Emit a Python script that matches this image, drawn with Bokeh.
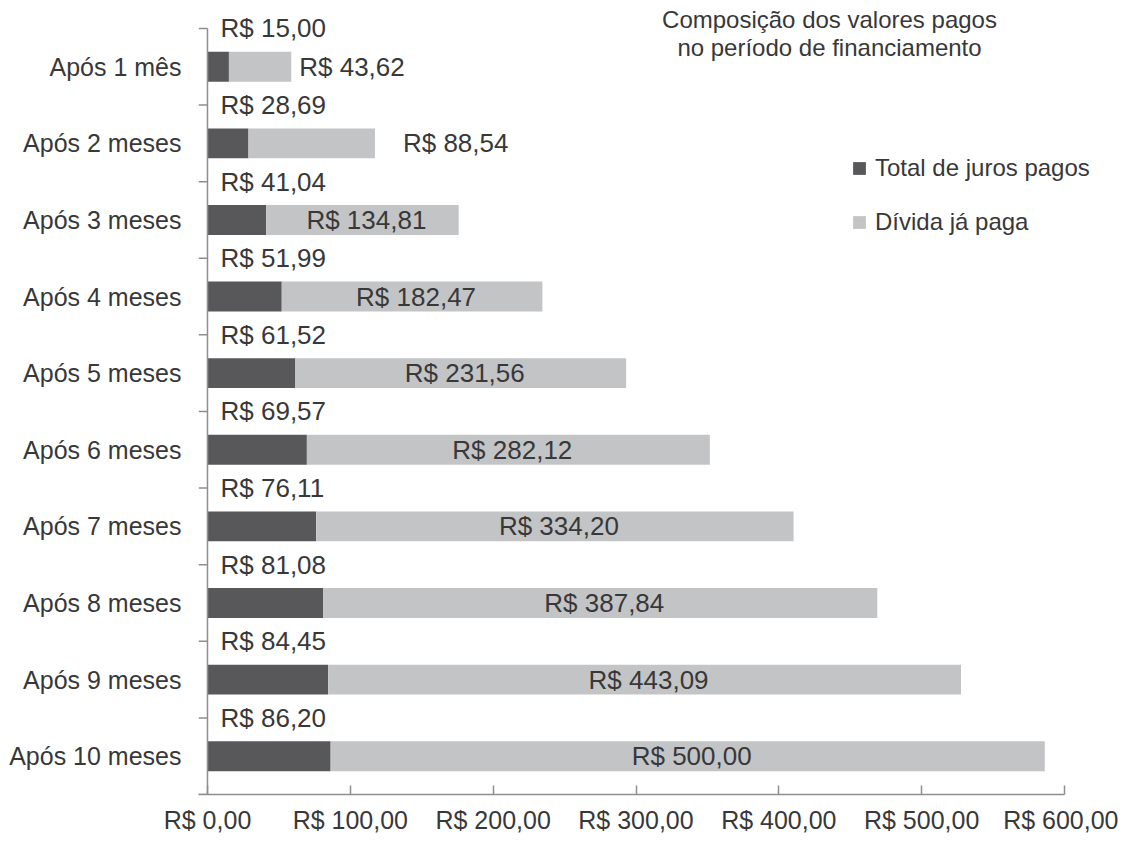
from bokeh.plotting import figure
from bokeh.models import (Range1d, FixedTicker, Legend, LegendItem, Label, LabelSet,
                          ColumnDataSource)
from bokeh.core.properties import value
from bokeh.embed import file_html
from bokeh.resources import INLINE

categories = ["Após 1 mês", "Após 2 meses", "Após 3 meses", "Após 4 meses", "Após 5 meses",
              "Após 6 meses", "Após 7 meses", "Após 8 meses", "Após 9 meses", "Após 10 meses"]
juros = [15.00, 28.69, 41.04, 51.99, 61.52, 69.57, 76.11, 81.08, 84.45, 86.20]
divida = [43.62, 88.54, 134.81, 182.47, 231.56, 282.12, 334.20, 387.84, 443.09, 500.00]
x_ticks = [0, 100, 200, 300, 400, 500, 600]
x_tick_labels = ["R$ 0,00", "R$ 100,00", "R$ 200,00", "R$ 300,00", "R$ 400,00", "R$ 500,00", "R$ 600,00"]
title_lines = ["Composição dos valores pagos", "no período de financiamento"]
legend_labels = ["Total de juros pagos", "Dívida já paga"]

DARK = "#58585b"
LIGHT = "#c3c4c6"
TEXT = "#383838"
AXIS = "#8e8e8e"
FONT = "Liberation Sans"

def fmt(v):
    return ("R$ %.2f" % v).replace(".", ",")

n = len(categories)
ypos = [n - i - 0.5 for i in range(n)]
bounds_y = list(range(n + 1))
totals = [j + d for j, d in zip(juros, divida)]

W, H = 1118, 836
LEFT, RIGHT, TOP, BOTTOM = 198, 2, 0, 40
TICK = 9
TOP_GAP = 28
x_px_per_unit = 857 / 600
x_start = -TICK / x_px_per_unit
x_end = x_start + (W - LEFT - RIGHT) / x_px_per_unit
band_px = (H - BOTTOM - TOP_GAP) / n
y_end = n + TOP_GAP / band_px
frame_h = H - BOTTOM - TOP

p = figure(width=W, height=H, x_range=Range1d(x_start, x_end), y_range=Range1d(0, y_end),
           output_backend="svg", toolbar_location=None,
           min_border_left=LEFT, min_border_right=RIGHT, min_border_top=TOP, min_border_bottom=BOTTOM)
p.grid.visible = False
p.outline_line_color = None
p.background_fill_color = "white"
p.border_fill_color = "white"

src = ColumnDataSource(dict(y=ypos, j=juros, t=totals))
r1 = p.hbar(y="y", left=0, right="j", height=0.39, fill_color=DARK, line_color=None, source=src)
r2 = p.hbar(y="y", left="j", right="t", height=0.39, fill_color=LIGHT, line_color=None, source=src)

# y axis line at x=0 and boundary ticks between categories
p.segment(x0=[0], y0=[0], x1=[0], y1=[n], line_color=AXIS, line_width=1.5)
p.segment(x0=[x_start] * (n + 1), y0=bounds_y, x1=[0] * (n + 1), y1=bounds_y,
          line_color=AXIS, line_width=1.5)

# juros labels above each bar (at band boundary)
jsrc = ColumnDataSource(dict(x=[0] * n, y=[y + 0.5 for y in ypos], text=[fmt(v) for v in juros]))
p.add_layout(LabelSet(x="x", y="y", text="text", source=jsrc, x_offset=13,
                      text_font=value(FONT), text_font_size=value("26px"), text_color=TEXT,
                      text_baseline="middle", text_align="left"))

# divida labels
inside = [i for i in range(n) if divida[i] > 100]
outside = [i for i in range(n) if divida[i] <= 100]
pads = [8, 28]
isrc = ColumnDataSource(dict(x=[juros[i] + divida[i] / 2 for i in inside], y=[ypos[i] for i in inside],
                             text=[fmt(divida[i]) for i in inside]))
osrc = ColumnDataSource(dict(x=[totals[i] for i in outside], y=[ypos[i] for i in outside],
                             text=[fmt(divida[i]) for i in outside], off=pads[:len(outside)]))
p.add_layout(LabelSet(x="x", y="y", text="text", source=isrc, x_offset=4,
                      text_font=value(FONT), text_font_size=value("26px"), text_color=TEXT,
                      text_baseline="middle", text_align="center"))
p.add_layout(LabelSet(x="x", y="y", text="text", source=osrc, x_offset="off",
                      text_font=value(FONT), text_font_size=value("26px"), text_color=TEXT,
                      text_baseline="middle", text_align="left"))

# x axis
xa = p.xaxis[0]
xa.bounds = (x_start, 600)
xa.ticker = FixedTicker(ticks=x_ticks, minor_ticks=[])
xa.major_label_overrides = {t: l for t, l in zip(x_ticks, x_tick_labels)}
xa.major_tick_in = 9
xa.major_tick_out = 0
xa.minor_tick_in = 0
xa.minor_tick_out = 0
xa.axis_line_color = AXIS
xa.major_tick_line_color = AXIS
xa.axis_line_width = 1.5
xa.major_tick_line_width = 1.5
xa.major_label_text_font = FONT
xa.major_label_text_font_size = "25px"
xa.major_label_text_color = TEXT
xa.major_label_standoff = 11

# y axis: category names only
ya = p.yaxis[0]
ya.ticker = FixedTicker(ticks=ypos, minor_ticks=[])
ya.major_label_overrides = {y: c for y, c in zip(ypos, categories)}
ya.major_tick_in = 0
ya.major_tick_out = 0
ya.minor_tick_in = 0
ya.minor_tick_out = 0
ya.axis_line_color = None
ya.major_tick_line_color = None
ya.minor_tick_line_color = None
ya.major_label_text_font = FONT
ya.major_label_text_font_size = "25px"
ya.major_label_text_color = TEXT
ya.major_label_standoff = 17

# title (screen units measured from the frame's bottom-left)
for k, dy in enumerate([frame_h - 21, frame_h - 49]):
    p.add_layout(Label(x=631, y=dy, x_units="screen", y_units="screen", text=title_lines[k],
                       text_font=FONT, text_font_size="24px", text_color=TEXT,
                       text_align="center", text_baseline="middle"))

legend = Legend(items=[LegendItem(label=legend_labels[0], renderers=[r1]),
                       LegendItem(label=legend_labels[1], renderers=[r2])],
                location=(653, frame_h - 239), orientation="vertical",
                glyph_width=16, glyph_height=16, label_height=30, spacing=24,
                label_standoff=8, padding=0, margin=0,
                label_text_font=FONT, label_text_font_size="24px", label_text_color=TEXT,
                border_line_color=None, background_fill_alpha=0)
p.add_layout(legend)

open("out.html", "w").write(file_html(p, INLINE))
